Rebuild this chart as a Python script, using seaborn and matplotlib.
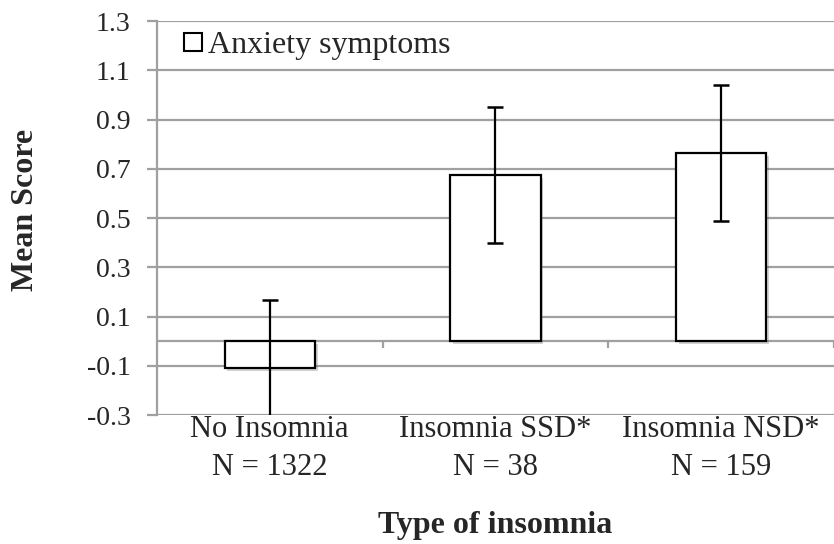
import numpy as np
import pandas as pd
import matplotlib
matplotlib.use("Agg")
import matplotlib.pyplot as plt
import matplotlib.patheffects as pe
from matplotlib.lines import Line2D
import seaborn as sns

# values
categories = ["No Insomnia\nN = 1322", "Insomnia SSD*\nN = 38", "Insomnia NSD*\nN = 159"]
mean_score = [-0.11, 0.675, 0.765]
error = [0.276, 0.275, 0.276]
yticks = [-0.3, -0.1, 0.1, 0.3, 0.5, 0.7, 0.9, 1.1, 1.3]

sns.set_style("white")
plt.rcParams["font.family"] = ["Liberation Serif", "DejaVu Serif"]

df = pd.DataFrame({"type": categories, "score": mean_score})

fig = plt.figure(figsize=(8.34, 5.44), dpi=100)
ax = fig.add_axes([0.188, 0.237, 0.812, 0.724])

sns.barplot(data=df, x="type", y="score", color="white", edgecolor="black",
            linewidth=1.6, width=0.4, saturation=1, errorbar=None, ax=ax, zorder=3)
for bar in ax.patches:
    bar.set_path_effects([pe.SimplePatchShadow(offset=(2, -2), alpha=0.25), pe.Normal()])

ax.errorbar(range(len(categories)), mean_score, yerr=error, fmt="none",
            ecolor="black", elinewidth=1.6, capsize=6, capthick=1.8, zorder=4)

# gridlines and zero axis line
ax.set_ylim(-0.3, 1.3)
ax.set_xlim(-0.5, 2.5)
ax.set_yticks(yticks)
ax.set_yticklabels([f"{t:.1f}" for t in yticks], fontsize=20)
for t in yticks:
    ax.axhline(t, color="#a0a0a0", linewidth=1.6, zorder=1)
ax.axhline(0, color="#a0a0a0", linewidth=1.6, zorder=2)
ax.vlines([0.5, 1.5, 2.5], -0.028, 0, color="#a0a0a0", linewidth=1.6, zorder=2)

ax.set_xticks(range(len(categories)))
ax.set_xticklabels(categories, fontsize=22, linespacing=1.4)
ax.tick_params(axis="x", length=0, pad=0)
ax.tick_params(axis="y", length=7, width=1.6, color="#a0a0a0", left=True, pad=12)

for side in ["top", "right", "bottom"]:
    ax.spines[side].set_visible(False)
ax.spines["left"].set_color("#a0a0a0")
ax.spines["left"].set_linewidth(1.6)

ax.set_ylabel("Mean Score", fontsize=23, fontweight="bold")
ax.yaxis.set_label_coords(-0.172, 0.52)
ax.set_xlabel("Type of insomnia", fontsize=23, fontweight="bold", labelpad=21)

handle = Line2D([], [], marker="s", linestyle="none", markersize=13,
                markerfacecolor="white", markeredgecolor="black", markeredgewidth=1.5)
ax.legend([handle], ["Anxiety symptoms"], loc="upper left", frameon=False,
          fontsize=23, handletextpad=0.1, borderaxespad=0.0,
          bbox_to_anchor=(0.015, 1.008), handlelength=0.8)

fig.savefig("out.png", dpi=100)
